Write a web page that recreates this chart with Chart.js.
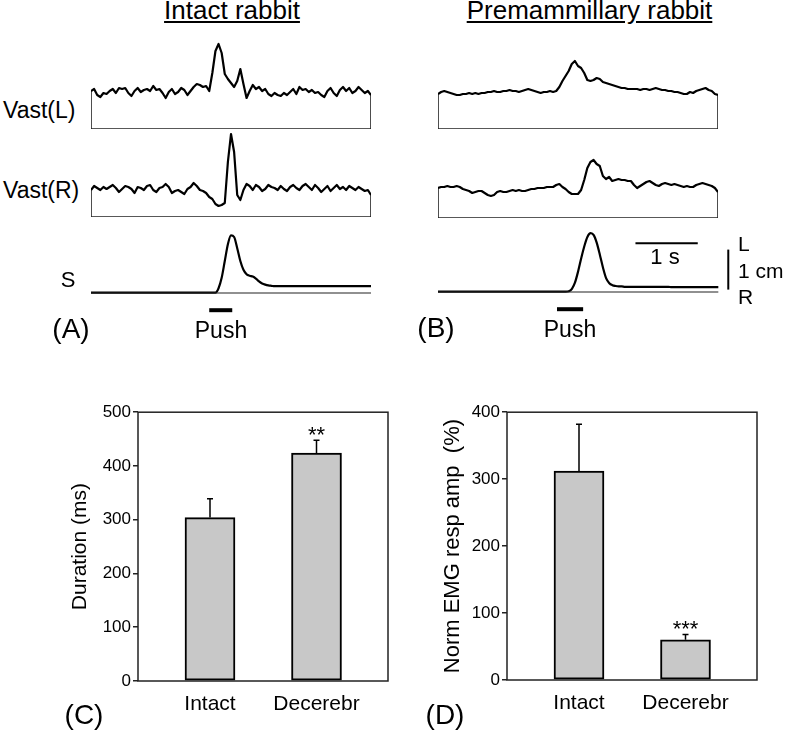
<!DOCTYPE html>
<html>
<head>
<meta charset="utf-8">
<script src="https://cdn.jsdelivr.net/npm/chart.js@4.4.1/dist/chart.umd.min.js"></script>
<style>
  body { margin: 0; background: #fff; }
  #page { position: relative; width: 785px; height: 733px; overflow: hidden;
          font-family: "Liberation Sans", Arial, sans-serif; color: #000; }
  canvas { position: absolute; }
  .lbl { position: absolute; white-space: pre; line-height: 1; }
</style>
</head>
<body>
<div id="page"></div>
<script>
// Trace sampling step (s)
const dt = 0.05;

// Rectified EMG, relative amplitude (arbitrary units)
const intactVastL = [
  38,40,34,32,36,35,38,40,36,41,
  40,41,36,33,38,41,37,39,40,38,
  43,39,40,36,31,37,40,35,37,41,
  39,34,38,42,45,44,42,43,38,56,
  78,85,76,55,50,46,42,48,60,45,
  31,38,44,40,42,38,40,35,33,36,
  34,33,36,34,37,40,35,42,39,40,
  37,39,36,37,34,32,38,41,36,33,
  39,42,38,41,36,38,42,39,36,38,
  34
];
const intactVastR = [
  27,31,29,27,30,28,30,32,29,25,
  28,31,30,28,24,30,29,27,31,32,
  27,25,29,30,33,30,24,26,27,25,
  23,28,30,34,31,27,26,24,20,18,
  13,11,12,14,55,83,65,22,17,27,
  33,31,27,32,30,26,28,32,30,29,
  27,31,28,26,30,32,29,27,31,33,
  30,27,32,29,25,28,31,26,29,32,
  28,30,27,31,29,27,30,28,26,27,
  22
];
const premVastL = [
  35,37,38,37,36,35,34,34,35,35,
  36,35,36,35,36,36,37,37,38,37,
  37,38,38,39,38,38,37,38,39,40,
  39,38,37,36,37,37,38,37,38,42,
  48,53,58,65,68,63,61,56,49,48,
  49,51,50,47,46,45,44,43,42,41,
  41,40,40,40,40,39,40,40,39,40,
  41,40,39,39,38,38,37,37,36,35,
  35,37,36,38,39,40,41,39,38,35,
  34
];
const premVastR = [
  30,31,31,32,31,31,32,31,29,28,
  27,25,26,27,27,25,23,22,23,26,
  27,26,26,27,28,27,28,27,27,28,
  29,29,30,30,30,31,31,31,33,34,
  31,29,26,24,24,24,28,38,50,56,
  58,54,52,42,39,41,37,38,39,38,
  38,37,37,33,30,32,34,36,37,35,
  33,32,34,35,34,33,34,33,32,31,
  32,31,31,33,34,35,34,33,32,30,
  26
];

// Lateral displacement S (cm)
const intactS = [
  0.01,0.01,0.01,0.01,0.01,0.01,0.01,0.01,0.01,0.01,
  0.01,0.01,0.01,0.01,0.01,0.01,0.01,0.01,0.01,0.01,
  0.01,0.01,0.01,0.01,0.01,0.01,0.01,0.01,0.01,0.01,
  0.01,0.01,0.01,0.01,0.01,0.01,0.01,0.01,0.01,0.01,
  0.01,0.12,0.38,0.80,1.22,1.44,1.40,1.12,0.80,0.58,
  0.47,0.43,0.41,0.36,0.29,0.24,0.21,0.19,0.18,0.17,
  0.17,0.17,0.17,0.17,0.17,0.17,0.17,0.17,0.17,0.17,
  0.17,0.17,0.17,0.17,0.17,0.17,0.17,0.17,0.17,0.17,
  0.17,0.17,0.17,0.17,0.17,0.17,0.17,0.17,0.17,0.17,
  0.17
];
const premS = [
  0.01,0.01,0.01,0.01,0.01,0.01,0.01,0.01,0.01,0.01,
  0.01,0.01,0.01,0.01,0.01,0.01,0.01,0.01,0.01,0.01,
  0.01,0.01,0.01,0.01,0.01,0.01,0.01,0.01,0.01,0.01,
  0.01,0.01,0.01,0.01,0.01,0.01,0.01,0.01,0.01,0.01,
  0.01,0.01,0.02,0.08,0.24,0.52,0.85,1.15,1.38,1.47,
  1.42,1.22,0.92,0.60,0.34,0.22,0.17,0.15,0.14,0.14,
  0.13,0.13,0.13,0.13,0.13,0.13,0.13,0.13,0.13,0.13,
  0.13,0.13,0.13,0.13,0.13,0.12,0.12,0.12,0.12,0.12,
  0.12,0.12,0.12,0.12,0.12,0.12,0.12,0.12,0.12,0.12,
  0.12
];

// Push periods (s) and scale bars
const intactPush = [1.90, 2.27];
const premPush = [1.91, 2.33];
const pushLevel = -0.43;          // cm, drawn under the S trace
const timeBar = [3.17, 4.17];     // 1 s
const timeBarLevel = 1.22;
const cmBarT = 4.66;
const cmBar = [0.06, 1.06];       // 1 cm

// Summary bars
const groups = ['Intact', 'Decerebr'];
const durationMean = [304, 424];
const durationErr = [35, 24];
const durationSig = ['', '**'];
const ampMean = [312, 60];
const ampErr = [70, 8];
const ampSig = ['', '***'];

const FONT = '"Liberation Sans", Arial, sans-serif';
Chart.defaults.font.family = FONT;
Chart.defaults.color = '#000';

const page = document.getElementById('page');
const PAD = 4;
const PX_PER_S = 62.2;

function addCanvas(left, top, width, height) {
  const c = document.createElement('canvas');
  c.width = width; c.height = height;
  c.style.left = left + 'px'; c.style.top = top + 'px';
  c.style.width = width + 'px'; c.style.height = height + 'px';
  page.appendChild(c);
  return c;
}

function label(text, x, baseline, size, align) {
  const d = document.createElement('div');
  d.className = 'lbl';
  d.textContent = text;
  d.style.fontSize = size + 'px';
  d.style.left = x + 'px';
  d.style.top = (baseline - 0.8465 * size) + 'px';
  if (align === 'center') d.style.transform = 'translateX(-50%)';
  if (align === 'right') d.style.transform = 'translateX(-100%)';
  page.appendChild(d);
  return d;
}

function pts(values) {
  return values.map((v, i) => ({ x: i * dt, y: v }));
}

// x0: pixel of t = 0, y0: pixel of value 0
function traceChart(x0, y0, pxY, yMin, yMax, tMax, datasets) {
  const w = Math.round(tMax * PX_PER_S) + 2 * PAD;
  const h = Math.round((yMax - yMin) * pxY) + 2 * PAD;
  const top = Math.round(y0 - yMax * pxY - PAD);
  const c = addCanvas(x0 - PAD, top, w, h);
  new Chart(c, {
    type: 'line',
    data: { datasets },
    options: {
      responsive: false,
      animation: false,
      layout: { padding: PAD },
      plugins: { legend: { display: false }, tooltip: { enabled: false } },
      elements: { point: { radius: 0 }, line: { borderJoinStyle: 'round', borderCapStyle: 'butt' } },
      scales: {
        x: { type: 'linear', display: false, min: 0, max: tMax },
        y: { type: 'linear', display: false, min: yMin, max: yMax }
      }
    }
  });
}

function emgSets(values) {
  const tEnd = (values.length - 1) * dt;
  const last = values[values.length - 1];
  return [
    { data: pts(values), borderColor: '#000', borderWidth: 2.2, tension: 0 },
    { data: [{ x: 0, y: values[0] }, { x: 0, y: 0 }, { x: tEnd, y: 0 }, { x: tEnd, y: last }],
      borderColor: '#222', borderWidth: 1.6, tension: 0 }
  ];
}

function sSets(values, push) {
  const tEnd = (values.length - 1) * dt;
  return [
    { data: [{ x: 0, y: 0 }, { x: tEnd, y: 0 }], borderColor: '#222', borderWidth: 1.2 },
    { data: pts(values), borderColor: '#000', borderWidth: 2.2, cubicInterpolationMode: 'monotone' },
    { data: [{ x: push[0], y: pushLevel }, { x: push[1], y: pushLevel }], borderColor: '#000', borderWidth: 4 }
  ];
}

// Top traces
traceChart(91, 129, 1, 0, 90, 4.5, emgSets(intactVastL));
traceChart(91, 217, 1, 0, 90, 4.5, emgSets(intactVastR));
traceChart(438, 129, 1, 0, 75, 4.5, emgSets(premVastL));
traceChart(438, 218, 1, 0, 65, 4.5, emgSets(premVastR));
traceChart(91, 292.7, 40, -0.6, 1.6, 4.5, sSets(intactS, intactPush));
traceChart(438, 292.3, 40, -0.6, 1.6, 4.8, sSets(premS, premPush).concat([
  { data: [{ x: timeBar[0], y: timeBarLevel }, { x: timeBar[1], y: timeBarLevel }], borderColor: '#000', borderWidth: 2 },
  { data: [{ x: cmBarT, y: cmBar[0] }, { x: cmBarT, y: cmBar[1] }], borderColor: '#000', borderWidth: 2 }
]));

// Bar positions along the category axis (fraction of plot width)
const catPos = [0.288, 0.714];

const barExtras = {
  id: 'barExtras',
  afterDatasetsDraw(chart, args, opts) {
    const ctx = chart.ctx;
    const ys = chart.scales.y;
    const area = chart.chartArea;
    chart.getDatasetMeta(0).data.forEach((bar, i) => {
      const top = ys.getPixelForValue(opts.mean[i] + opts.err[i]);
      ctx.save();
      ctx.strokeStyle = '#000';
      ctx.lineWidth = 1.5;
      ctx.beginPath();
      ctx.moveTo(bar.x, bar.y);
      ctx.lineTo(bar.x, top);
      ctx.moveTo(bar.x - 3, top);
      ctx.lineTo(bar.x + 3, top);
      ctx.stroke();
      if (opts.sig[i]) {
        ctx.fillStyle = '#000';
        ctx.font = '22px ' + FONT;
        ctx.textAlign = 'center';
        ctx.textBaseline = 'alphabetic';
        ctx.fillText(opts.sig[i], bar.x, top + 2);
      }
      ctx.restore();
    });
    ctx.save();
    ctx.strokeStyle = '#222';
    ctx.lineWidth = 1.5;
    ctx.strokeRect(area.left, area.top, area.right - area.left, area.bottom - area.top);
    ctx.restore();
  }
};

function barChart(cfg) {
  const c = addCanvas(cfg.left, cfg.top, cfg.width, cfg.height);
  new Chart(c, {
    type: 'bar',
    data: {
      datasets: [{
        data: cfg.mean.map((m, i) => ({ x: catPos[i], y: m })),
        backgroundColor: '#c8c8c8',
        borderColor: '#000',
        borderWidth: 2,
        borderSkipped: false,
        barThickness: 50
      }]
    },
    plugins: [barExtras],
    options: {
      responsive: false,
      animation: false,
      layout: { padding: cfg.padding },
      plugins: {
        legend: { display: false },
        tooltip: { enabled: false },
        barExtras: { mean: cfg.mean, err: cfg.err, sig: cfg.sig }
      },
      scales: {
        x: {
          type: 'linear', min: 0, max: 1, offset: false,
          afterBuildTicks: s => { s.ticks = catPos.map(v => ({ value: v })); },
          afterFit: s => { s.height = cfg.xAxisH; },
          ticks: { callback: (v, i) => groups[i], font: { size: 21 }, color: '#000', padding: 11,
                   autoSkip: false, maxRotation: 0 },
          grid: { display: false, drawTicks: false, offset: false },
          border: { display: false }
        },
        y: {
          min: 0, max: cfg.max,
          afterFit: s => { s.width = cfg.yAxisW; },
          ticks: { stepSize: 100, font: { size: 17 }, color: '#000', padding: 2 },
          grid: { drawOnChartArea: false, drawTicks: true, tickLength: 5, color: '#222', lineWidth: 1.5 },
          border: { display: false },
          title: { display: true, text: cfg.title, font: { size: cfg.titleSize }, color: '#000',
                   padding: { top: cfg.titlePad, bottom: 0 } }
        }
      }
    }
  });
}

barChart({ left: 0, top: 400, width: 392, height: 333, padding: { top: 11, right: 4, left: 0, bottom: 0 },
  yAxisW: 138, xAxisH: 52, max: 500, title: 'Duration (ms)', titleSize: 21, titlePad: 68,
  mean: durationMean, err: durationErr, sig: durationSig });
barChart({ left: 392, top: 400, width: 393, height: 333, padding: { top: 10, right: 28, left: 0, bottom: 0 },
  yAxisW: 115, xAxisH: 53, max: 400, title: 'Norm EMG resp amp  (%)', titleSize: 22, titlePad: 48,
  mean: ampMean, err: ampErr, sig: ampSig });

// Text labels
label('Intact rabbit', 232, 18.5, 26, 'center').style.textDecoration = 'underline';
label('Premammillary rabbit', 589.5, 18.5, 26, 'center').style.textDecoration = 'underline';
label('Vast(L)', 3, 118.3, 23);
label('Vast(R)', 3, 198.3, 23);
label('S', 68, 288, 22, 'center');
label('(A)', 71, 339, 28, 'center');
label('Push', 221, 338, 23, 'center');
label('(B)', 436, 338, 28, 'center');
label('Push', 570, 337.7, 23, 'center');
label('1 s', 665, 265, 22, 'center');
label('L', 738, 251, 21);
label('1 cm', 738, 278, 21);
label('R', 738, 304, 21);
label('(C)', 84, 725, 28, 'center');
label('(D)', 445, 725, 28, 'center');
</script>
</body>
</html>
